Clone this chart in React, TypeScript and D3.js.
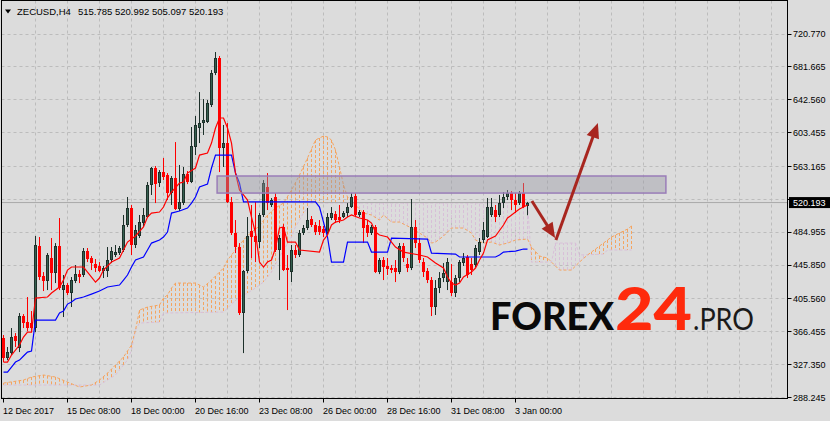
import React from "react";
import * as d3 from "d3";

const W = 830;
const H = 421;

const symbol = "ZECUSD,H4";
const lastOHLC = [515.785, 520.992, 505.097, 520.193];
const bidPrice = 520.193;

// [open, high, low, close] per H4 bar
const candles: number[][] = [
  [359.0, 362.6, 330.4, 335.2], [335.2, 348.3, 332.8, 342.3], [341.1, 370.9, 338.8, 360.2], [361.4, 364.9, 348.3, 355.4],
  [347.1, 388.7, 342.3, 385.2], [385.2, 387.5, 370.9, 376.8], [378.0, 407.8, 367.3, 370.9], [376.8, 391.1, 367.3, 370.9],
  [370.9, 480.4, 366.1, 469.7], [468.5, 479.2, 428.0, 431.6], [432.8, 437.5, 414.9, 426.8], [426.8, 460.1, 416.1, 457.8],
  [454.2, 478.0, 416.1, 436.3], [436.3, 472.0, 424.4, 468.5], [468.5, 501.8, 416.1, 418.5], [416.1, 434.0, 384.0, 422.1],
  [422.1, 424.4, 410.2, 412.5], [412.5, 431.6, 395.9, 428.0], [426.8, 445.9, 424.4, 435.1], [435.1, 439.9, 424.4, 431.6],
  [434.0, 466.1, 431.6, 462.5], [462.5, 466.1, 449.4, 453.0], [454.2, 456.6, 439.9, 448.2], [447.0, 453.0, 437.5, 442.3],
  [444.7, 449.4, 437.5, 438.7], [438.7, 444.7, 430.4, 442.3], [438.7, 467.3, 431.6, 451.8], [451.8, 467.3, 448.2, 462.5],
  [457.8, 469.7, 455.4, 461.3], [460.1, 468.5, 457.8, 466.1], [463.7, 505.4, 461.3, 493.5], [493.5, 526.8, 491.1, 513.7],
  [513.7, 517.3, 457.8, 469.7], [469.7, 493.5, 466.1, 487.5], [480.4, 505.4, 478.0, 497.0], [495.8, 513.7, 491.1, 505.4],
  [503.0, 544.6, 501.8, 541.1], [541.1, 562.5, 529.2, 561.3], [561.3, 563.7, 519.6, 542.2], [543.4, 558.9, 538.7, 556.5],
  [556.5, 573.2, 547.0, 550.6], [552.9, 555.3, 523.2, 531.5], [531.5, 551.8, 517.3, 549.4], [549.4, 592.2, 511.3, 512.5],
  [512.5, 564.9, 510.1, 520.8], [519.6, 562.5, 517.3, 554.1], [554.1, 557.7, 542.2, 544.6], [544.6, 610.1, 543.4, 587.5],
  [586.3, 623.2, 576.7, 612.5], [608.9, 651.7, 591.0, 614.8], [614.8, 643.4, 600.6, 618.4], [616.0, 642.2, 614.8, 638.6],
  [636.3, 677.9, 633.9, 674.3], [674.3, 699.3, 671.9, 692.2], [692.2, 694.6, 556.5, 585.1], [585.1, 612.5, 562.5, 591.0],
  [591.0, 614.8, 519.6, 520.8], [520.8, 526.8, 481.6, 483.9], [483.9, 499.4, 460.1, 467.3], [467.3, 472.0, 386.4, 388.7],
  [388.7, 439.9, 341.1, 438.7], [438.7, 503.0, 436.3, 480.4], [486.3, 517.3, 454.2, 479.2], [480.4, 520.8, 449.4, 473.2],
  [473.2, 507.7, 466.1, 505.4], [505.4, 547.0, 503.0, 543.4], [538.7, 555.3, 511.3, 519.6], [517.3, 525.6, 514.9, 523.2],
  [526.8, 531.5, 461.3, 463.7], [463.7, 481.6, 428.0, 478.0], [491.1, 494.6, 438.7, 439.9], [442.3, 457.8, 392.3, 439.9],
  [437.5, 469.7, 425.6, 463.7], [463.7, 469.7, 454.2, 457.8], [457.8, 487.5, 455.4, 483.9], [483.9, 493.5, 481.6, 489.9],
  [489.9, 513.7, 487.5, 499.4], [500.6, 504.2, 491.1, 493.5], [493.5, 497.0, 481.6, 485.1], [492.3, 499.4, 481.6, 485.1],
  [488.7, 492.3, 479.2, 483.9], [483.9, 507.7, 481.6, 503.0], [501.8, 514.9, 499.4, 507.7], [506.5, 510.1, 495.8, 499.4],
  [503.0, 517.3, 495.8, 499.4], [503.0, 510.1, 501.8, 507.7], [507.7, 519.6, 503.0, 514.9], [514.9, 531.5, 513.7, 526.8],
  [528.0, 531.5, 503.0, 505.4], [505.4, 511.3, 503.0, 508.9], [508.9, 511.3, 472.0, 489.9], [493.5, 499.4, 479.2, 483.9],
  [483.9, 493.5, 481.6, 491.1], [491.1, 493.5, 436.3, 437.5], [437.5, 454.2, 435.1, 451.8], [451.8, 455.4, 428.0, 443.5],
  [444.7, 454.2, 434.0, 441.1], [442.3, 445.9, 436.3, 439.9], [442.3, 451.8, 425.6, 437.5], [437.5, 472.0, 435.1, 468.5],
  [468.5, 472.0, 449.4, 454.2], [447.0, 454.2, 437.5, 442.3], [442.3, 524.4, 439.9, 491.1], [491.1, 499.4, 466.1, 472.0],
  [472.0, 478.0, 448.2, 451.8], [449.4, 454.2, 431.6, 437.5], [438.7, 442.3, 424.4, 428.0], [428.0, 431.6, 385.2, 395.9],
  [395.9, 428.0, 386.4, 418.5], [418.5, 437.5, 412.5, 430.4], [430.4, 448.2, 425.6, 436.3], [425.6, 454.2, 416.1, 449.4],
  [425.6, 447.0, 409.0, 412.5], [412.5, 434.0, 407.8, 430.4], [430.4, 451.8, 425.6, 449.4], [448.2, 460.1, 444.7, 454.2],
  [455.4, 457.8, 430.4, 434.0], [447.0, 454.2, 434.0, 439.9], [445.9, 469.7, 443.5, 466.1], [461.3, 478.0, 457.8, 473.2],
  [475.6, 497.0, 472.0, 487.5], [479.2, 525.6, 478.0, 514.9], [505.4, 525.6, 503.0, 514.9], [511.3, 517.3, 497.0, 503.0],
  [505.4, 529.2, 503.0, 519.6], [519.6, 532.7, 513.7, 526.8], [526.8, 535.1, 523.2, 531.5], [531.5, 533.9, 511.3, 523.2],
  [523.2, 531.5, 507.7, 517.3], [519.6, 533.9, 517.3, 531.5], [531.5, 543.4, 513.7, 514.9], [515.785, 520.992, 505.097, 520.193],
];

// Ichimoku lines: [bar, price]
const tenkan: number[][] = [
  [0, 330.4], [1, 330.4], [2, 338.8], [4, 350.7], [5, 360.2], [6, 366.1], [7, 366.1], [8, 406.6], [11, 407.8], [12, 412.5],
  [14, 419.7], [15, 428.0], [16, 439.9], [17, 443.5], [20, 443.5], [21, 437.5], [23, 425.6], [24, 430.4], [25, 439.9],
  [27, 449.4], [29, 454.2], [31, 473.2], [33, 480.4], [35, 491.1], [36, 503.0], [37, 507.7], [39, 508.9], [40, 514.9],
  [41, 525.6], [42, 532.7], [44, 543.4], [45, 544.6], [46, 555.3], [48, 561.3], [49, 576.7], [51, 579.1], [52, 591.0],
  [53, 608.9], [54, 620.8], [55, 620.8], [56, 608.9], [57, 591.0], [58, 555.3], [59, 535.1], [60, 529.2], [61, 523.2],
  [62, 503.0], [63, 483.9], [64, 449.4], [65, 443.5], [66, 449.4], [67, 451.8], [68, 466.1], [69, 489.9], [70, 491.1],
  [71, 473.2], [73, 473.2], [74, 463.7], [79, 461.3], [80, 475.6], [81, 481.6], [82, 493.5], [83, 497.0], [85, 499.4],
  [86, 503.0], [87, 505.4], [89, 501.8], [91, 499.4], [92, 495.8], [93, 485.1], [94, 481.6], [96, 479.2], [97, 473.2],
  [98, 467.3], [100, 461.3], [104, 457.8], [106, 455.4], [108, 448.2], [110, 442.3], [111, 431.6], [112, 424.4],
  [113, 422.1], [114, 424.4], [115, 431.6], [117, 437.5], [118, 442.3], [119, 451.8], [120, 460.1], [121, 475.6],
  [123, 480.4], [125, 493.5], [126, 501.8], [128, 508.9], [129, 512.5], [130, 514.9], [131, 517.3],
];

const kijun: number[][] = [
  [0, 318.5], [1, 318.5], [2, 324.5], [3, 330.4], [4, 332.8], [5, 337.6], [6, 342.3], [7, 343.5], [8, 380.4], [13, 380.4],
  [14, 388.7], [15, 391.1], [16, 399.4], [17, 401.8], [18, 405.4], [20, 407.8], [22, 411.3], [24, 414.9], [26, 419.7],
  [29, 422.1], [30, 428.0], [31, 434.0], [32, 443.5], [33, 451.8], [35, 455.4], [36, 463.7], [37, 472.0], [39, 475.6],
  [40, 479.2], [41, 485.1], [42, 507.7], [44, 510.1], [46, 513.7], [47, 519.6], [48, 526.8], [49, 538.7], [51, 542.2],
  [52, 561.3], [53, 576.7], [57, 576.7], [58, 555.3], [59, 543.4], [60, 521.0], [78, 521.0], [79, 514.9], [80, 497.0],
  [81, 479.2], [82, 449.4], [85, 449.4], [86, 473.2], [91, 473.2], [92, 461.3], [96, 461.3], [97, 478.0], [106, 476.8],
  [107, 460.1], [113, 458.9], [114, 455.4], [123, 455.4], [124, 457.8], [125, 461.3], [128, 462.5], [130, 464.9], [131, 464.9],
];

const spanA: number[][] = [
  [0, 305.4], [5, 309.0], [7, 312.6], [10, 315.0], [13, 312.6], [16, 306.6], [19, 300.7], [22, 303.1], [24, 309.0],
  [26, 317.3], [28, 326.9], [30, 336.4], [32, 350.7], [33, 368.5], [34, 392.3], [36, 395.9], [39, 398.3], [40, 406.6],
  [41, 410.2], [42, 418.5], [43, 424.4], [48, 424.4], [50, 419.7], [52, 428.0], [54, 437.5], [55, 442.3], [56, 451.8],
  [58, 463.7], [60, 475.6], [62, 485.1], [64, 492.3], [66, 505.4], [68, 513.7], [70, 519.6], [72, 535.1], [74, 552.9],
  [76, 573.2], [78, 594.6], [80, 599.4], [81, 598.2], [82, 594.6], [83, 582.7], [84, 562.5], [85, 541.1], [86, 526.8],
  [88, 517.3], [90, 507.7], [92, 505.4], [94, 499.4], [95, 505.4], [97, 497.0], [99, 497.0], [102, 489.9], [104, 483.9],
  [106, 478.0], [107, 472.0], [108, 473.2], [110, 480.4], [112, 489.9], [115, 489.9], [117, 483.9], [118, 475.6],
  [120, 472.0], [122, 473.2], [124, 469.7], [126, 472.0], [128, 475.6], [131, 476.8], [132, 467.3], [134, 456.6],
  [136, 454.2], [137, 449.4], [139, 439.9], [142, 439.9], [144, 449.4], [146, 457.8], [148, 464.9], [150, 472.0],
  [152, 479.2], [154, 483.9], [156, 488.7], [157, 492.3],
];

const spanB: number[][] = [
  [0, 303.1], [24, 303.1], [28, 315.0], [31, 332.8], [32, 344.7], [33, 368.5], [34, 376.8], [39, 378.0], [40, 388.7],
  [55, 389.9], [57, 399.4], [59, 407.8], [61, 412.5], [63, 418.5], [65, 425.6], [67, 437.5], [68, 447.0], [70, 463.7],
  [72, 479.2], [73, 491.1], [75, 507.7], [77, 519.6], [131, 519.6], [132, 449.4], [137, 449.4], [138, 472.0], [143, 472.0],
  [144, 457.8], [150, 458.9], [151, 463.7], [157, 463.7],
];

// the 524.060 level has a grid line but its label is hidden behind the bid label
const priceTicks = [720.77, 681.665, 642.56, 603.455, 563.165, 524.06, 484.955, 445.85, 405.56, 366.455, 327.35, 288.245];
const priceTickShown = [true, true, true, true, true, false, true, true, true, true, true, true];
const timeTickBars = [0, 16, 32, 48, 64, 80, 96, 112, 128];
const timeTickLabels = [
  "12 Dec 2017", "15 Dec 08:00", "18 Dec 00:00", "20 Dec 16:00", "23 Dec 08:00",
  "26 Dec 00:00", "28 Dec 16:00", "31 Dec 08:00", "3 Jan 00:00",
];

const zoneBars = [53.4, 165.6];
const zonePrices = [531.5, 551.8];
const arrowDown = [[132.1, 522.0], [137.9, 478.0]];
const arrowUp = [[138.1, 475.6], [148.6, 614.8]];

const BG = "#dcdcdc";
const GRID = "#bcbcbc";
const BULL_FILL = "#35604f";
const BULL_LINE = "#1d302a";
const BEAR = "#ff0000";
const SANDY = "#f4a460";
const THISTLE = "#d8bfd8";
const ARROW = "#a8261f";
const FONT = "'Liberation Sans', Arial, sans-serif";

const PL = 1.5, PT = 0.5, PR = 787.5, PB = 398.5;

function Arrow({ pts, x, y }: { pts: number[][]; x: any; y: any }) {
  const x1 = x(pts[0][0]), y1 = y(pts[0][1]);
  const x2 = x(pts[1][0]), y2 = y(pts[1][1]);
  const dx = x2 - x1, dy = y2 - y1;
  const len = Math.sqrt(dx * dx + dy * dy);
  const ux = dx / len, uy = dy / len;
  const hl = 15, hw = 6.5;
  const bx = x2 - ux * hl, by = y2 - uy * hl;
  const head = `M${x2},${y2} L${bx - uy * hw},${by + ux * hw} L${bx + uy * hw},${by - ux * hw} Z`;
  return (
    <g>
      <line x1={x1} y1={y1} x2={bx + ux * 2} y2={by + uy * 2} stroke={ARROW} strokeWidth={3} />
      <path d={head} fill={ARROW} />
    </g>
  );
}

export default function App() {
  const x = d3.scaleLinear().domain([0, 157]).range([3.5, 3.5 + 4 * 157]);
  const y = d3.scaleLinear().domain([288.245, 720.77]).range([397.5, 34]);

  const line = d3.line<number[]>().x((d) => x(d[0])).y((d) => y(d[1]));
  const aAt = d3.scaleLinear().domain(spanA.map((d) => d[0])).range(spanA.map((d) => d[1]));
  const bAt = d3.scaleLinear().domain(spanB.map((d) => d[0])).range(spanB.map((d) => d[1]));
  const cloudBars = d3.range(0, 158);

  const vGrid = d3.range(8, 200, 8).map((b) => x(b)).filter((v) => v < PR - 2);

  const crisp = (v: number) => Math.round(v - 0.5) + 0.5;

  return (
    <svg width={W} height={H} style={{ display: "block", position: "absolute", left: 0, top: 0 }} fontFamily={FONT}>
      <defs>
        <clipPath id="plot">
          <rect x={PL} y={PT} width={PR - PL} height={PB - PT} />
        </clipPath>
      </defs>
      <rect x={0} y={0} width={W} height={H} fill={BG} />
      <g clipPath="url(#plot)">
        {priceTicks.map((p, i) => (
          <line key={"hg" + i} x1={PL} x2={PR} y1={crisp(y(p))} y2={crisp(y(p))} stroke={GRID} strokeDasharray="3,3" />
        ))}
        {vGrid.map((v, i) => (
          <line key={"vg" + i} x1={v} x2={v} y1={PT} y2={PB} stroke={GRID} strokeDasharray="3,3" />
        ))}
        {cloudBars.map((b) => {
          const a = aAt(b), bb = bAt(b);
          return (
            <line key={"k" + b} x1={x(b)} x2={x(b)} y1={y(a)} y2={y(bb)}
              stroke={a >= bb ? SANDY : THISTLE} strokeDasharray="3,2" strokeWidth={1} />
          );
        })}
        <path d={line(spanB) || ""} fill="none" stroke={THISTLE} strokeDasharray="3,2" />
        <path d={line(spanA) || ""} fill="none" stroke={SANDY} strokeDasharray="3,2" />
        <line x1={PL} x2={PR} y1={y(bidPrice)} y2={y(bidPrice)} stroke="#a9a9a9" strokeWidth={1} />
        {candles.map((c, i) => {
          const [o, h, l, cl] = c;
          const cx = crisp(x(i));
          const bull = cl >= o;
          const top = Math.round(y(Math.max(o, cl)));
          const bot = Math.round(y(Math.min(o, cl)));
          const hh = Math.max(bot - top, 1);
          return bull ? (
            <g key={"c" + i}>
              <line x1={cx} x2={cx} y1={y(h)} y2={y(l)} stroke={BULL_LINE} />
              <rect x={cx - 1} y={top + 0.5} width={2} height={Math.max(hh - 1, 0.5)} fill={BULL_FILL} stroke={BULL_LINE} strokeWidth={1} />
            </g>
          ) : (
            <g key={"c" + i}>
              <line x1={cx} x2={cx} y1={y(h)} y2={y(l)} stroke={BEAR} />
              <rect x={cx - 1.5} y={top} width={3} height={hh} fill={BEAR} />
            </g>
          );
        })}
        <path d={line(kijun) || ""} fill="none" stroke="#0000ff" strokeWidth={1.2} />
        <path d={line(tenkan) || ""} fill="none" stroke="#ff0000" strokeWidth={1.2} />
        <rect x={x(zoneBars[0])} y={y(zonePrices[1])} width={x(zoneBars[1]) - x(zoneBars[0])}
          height={y(zonePrices[0]) - y(zonePrices[1])} fill="rgba(150,150,162,0.42)" stroke="#9a7db8" strokeWidth={1.5} />
        <Arrow pts={arrowDown} x={x} y={y} />
        <Arrow pts={arrowUp} x={x} y={y} />
        <g>
          <text x={490} y={330} fontFamily="Lato, 'Open Sans', sans-serif" fontWeight={900} fontSize={37}
            textLength={124} lengthAdjust="spacingAndGlyphs" fill="#0a0a0a">FOREX</text>
          <text x={615} y={330} fontFamily="Lato, 'Open Sans', sans-serif" fontWeight={900} fontSize={59}
            textLength={77} lengthAdjust="spacingAndGlyphs" fill="#ff2a0c">24</text>
          <text x={693} y={330} fontFamily="Lato, 'Open Sans', sans-serif" fontWeight={400} fontSize={30}
            textLength={61} lengthAdjust="spacingAndGlyphs" fill="#1a1a1a">.PRO</text>
        </g>
        <path d="M5,9.5 L11,9.5 L8,13.5 Z" fill="#000" />
        <text x={17} y={15} fontSize={9.5} fill="#000">{symbol}</text>
        <text x={78} y={15} fontSize={9.5} fill="#000">{lastOHLC.map((v) => v.toFixed(3)).join(" ")}</text>
      </g>
      <rect x={PL} y={PT} width={PR - PL} height={PB - PT} fill="none" stroke="#000" />
      {priceTicks.map((p, i) => (
        <g key={"pt" + i}>
          <line x1={PR} x2={PR + 4} y1={crisp(y(p))} y2={crisp(y(p))} stroke="#000" />
          {priceTickShown[i] && (
            <text x={793} y={y(p) + 3.3} fontSize={9} fill="#000">{p.toFixed(3)}</text>
          )}
        </g>
      ))}
      <rect x={789} y={y(bidPrice) - 5.5} width={41} height={11} fill="#000" />
      <text x={793} y={y(bidPrice) + 3.3} fontSize={9} fill="#fff">{bidPrice.toFixed(3)}</text>
      {timeTickBars.map((b, i) => (
        <g key={"tt" + i}>
          <line x1={crisp(x(b))} x2={crisp(x(b))} y1={PB} y2={PB + 4} stroke="#000" />
          <text x={x(b) - 0.5} y={413.5} fontSize={9} fill="#000">{timeTickLabels[i]}</text>
        </g>
      ))}
    </svg>
  );
}
